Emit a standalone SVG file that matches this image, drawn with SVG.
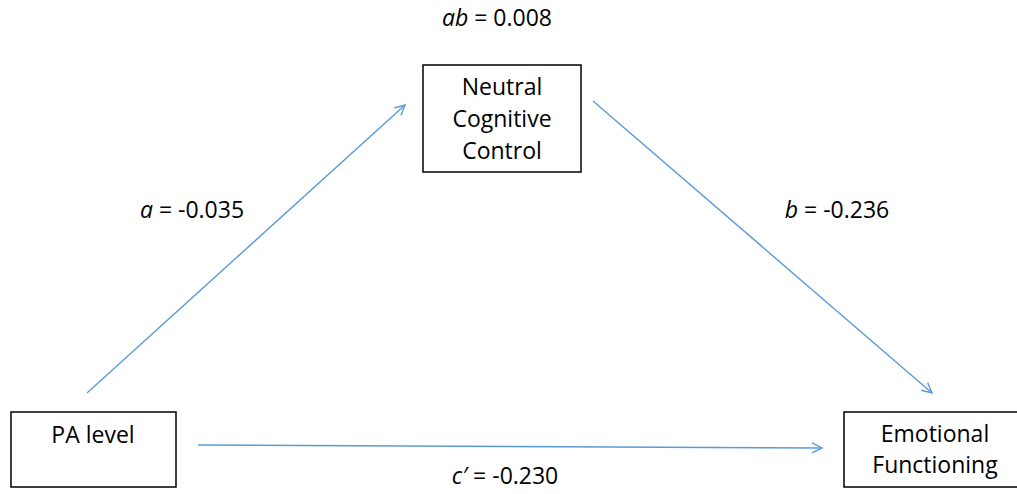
<svg xmlns="http://www.w3.org/2000/svg" width="1017" height="494" viewBox="0 0 1017 494">
<style>
.box{fill:#fff;stroke:#000;stroke-width:1.5}
.t{font-family:"Open Sans","Liberation Sans",sans-serif;font-size:23px;fill:#000;text-anchor:middle}
.e{stroke:#5B9BD5;stroke-width:1.4;fill:none}
</style>
<defs>
<marker id="ah" viewBox="0 0 12 12" refX="11" refY="6" markerWidth="12" markerHeight="12" markerUnits="userSpaceOnUse" orient="auto">
<path d="M1,1 L11,6 L1,11" fill="none" stroke="#5B9BD5" stroke-width="1.4"/>
</marker>
</defs>
<rect width="1017" height="494" fill="#fff"/>
<g id="connectors">
<line class="e" x1="87" y1="393" x2="405" y2="105" marker-end="url(#ah)"/>
<line class="e" x1="593" y1="101" x2="932" y2="393" marker-end="url(#ah)"/>
<line class="e" x1="198" y1="445" x2="822" y2="448" marker-end="url(#ah)"/>
</g>
<g id="labels">
<text class="t" x="497" y="26"><tspan font-style="italic">ab</tspan> = 0.008</text>
<text class="t" x="192" y="218"><tspan font-style="italic">a</tspan> = -0.035</text>
<text class="t" x="837" y="218"><tspan font-style="italic">b</tspan> = -0.236</text>
<text class="t" x="505" y="484"><tspan font-style="italic">c′</tspan> = -0.230</text>
</g>
<g id="node-ncc">
<rect class="box" x="423" y="65" width="158" height="107"/>
<text class="t" x="502" y="95">Neutral</text>
<text class="t" x="502" y="127">Cognitive</text>
<text class="t" x="502" y="159">Control</text>
</g>
<g id="node-pa">
<rect class="box" x="11" y="412" width="165" height="75"/>
<text class="t" x="93" y="443">PA level</text>
</g>
<g id="node-ef">
<rect class="box" x="844" y="412" width="180" height="75"/>
<text class="t" x="935" y="442">Emotional</text>
<text class="t" x="935" y="473">Functioning</text>
</g>
</svg>
